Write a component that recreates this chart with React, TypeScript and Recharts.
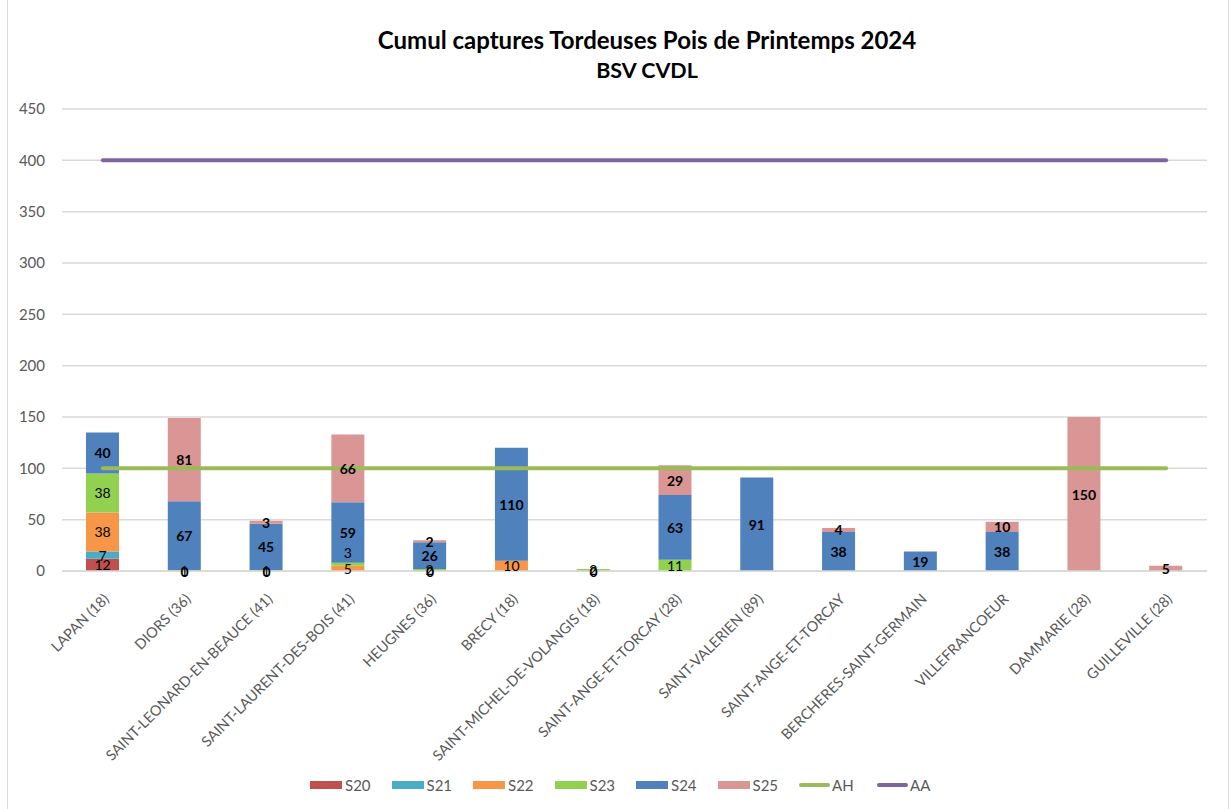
import React from 'react';
import {
  ComposedChart, Bar, Line, XAxis, YAxis, CartesianGrid, Legend, LabelList
} from 'recharts';

// Sites
const categories = [
  'LAPAN (18)',
  'DIORS (36)',
  'SAINT-LEONARD-EN-BEAUCE (41)',
  'SAINT-LAURENT-DES-BOIS (41)',
  'HEUGNES (36)',
  'BRECY (18)',
  'SAINT-MICHEL-DE-VOLANGIS (18)',
  'SAINT-ANGE-ET-TORCAY (28)',
  'SAINT-VALERIEN (89)',
  'SAINT-ANGE-ET-TORCAY',
  'BERCHERES-SAINT-GERMAIN',
  'VILLEFRANCOEUR',
  'DAMMARIE (28)',
  'GUILLEVILLE (28)',
];

// weekly captures (null = no reading)
const s20 = [12, null, null, null, null, null, null, null, null, null, null, null, null, null];
const s21 = [7, null, null, null, null, null, null, null, null, null, null, null, null, null];
const s22 = [38, 0, 0, 5, 0, 10, 0, null, null, null, null, null, null, null];
const s23 = [38, 1, 1, 3, 2, null, 2, 11, null, null, null, null, null, null];
const s24 = [40, 67, 45, 59, 26, 110, null, 63, 91, 38, 19, 38, null, null];
const s25 = [null, 81, 3, 66, 2, null, null, 29, null, 4, null, 10, 150, 5];

// thresholds
const ahThreshold = 100;
const aaThreshold = 400;

const yTicks = [0, 50, 100, 150, 200, 250, 300, 350, 400, 450];

const data = categories.map((name, i) => ({
  name,
  S20: s20[i],
  S21: s21[i],
  S22: s22[i],
  S23: s23[i],
  S24: s24[i],
  S25: s25[i],
  AH: ahThreshold,
  AA: aaThreshold,
}));

const FONT = 'Lato, "Open Sans", sans-serif';
const GREY = '#595959';
const PLOT_BOTTOM = 571;

const barSeries = [
  { key: 'S20', color: '#C0504D', bold: false },
  { key: 'S21', color: '#4BACC6', bold: false },
  { key: 'S22', color: '#F79646', bold: false },
  { key: 'S23', color: '#92D050', bold: false },
  { key: 'S24', color: '#4F81BD', bold: true },
  { key: 'S25', color: '#D99694', bold: true },
];
const lineSeries = [
  { key: 'AH', color: '#9BBB59' },
  { key: 'AA', color: '#8064A2' },
];

const makeLabel = (key: string, bold: boolean) => (props: any) => {
  const { x, y, width, height, value } = props;
  if (value === null || value === undefined || value === 0) return null;
  let cy = y + height / 2;
  // thin S23 slice stacked on a labelled S22 slice: lift its label
  if (key === 'S23' && Math.abs(height) < 5 && y + height < PLOT_BOTTOM - 2) cy -= 12;
  return (
    <text
      x={x + width / 2}
      y={cy}
      textAnchor="middle"
      dominantBaseline="central"
      fontFamily={FONT}
      fontSize={14}
      fontWeight={bold ? 700 : 400}
      fill="#000"
    >
      {value}
    </text>
  );
};

// "0" readings sit on the baseline
const zeroLabel = (props: any) => {
  const { x, y, value } = props;
  if (value !== 0) return null;
  return (
    <text
      x={x}
      y={y}
      textAnchor="middle"
      dominantBaseline="central"
      fontFamily={FONT}
      fontSize={14}
      fontWeight={700}
      fill="#000"
    >
      0
    </text>
  );
};

const XTick = (props: any) => {
  const { x, y, payload } = props;
  const ax = x + 7;
  const ay = y + 29;
  return (
    <text
      x={ax}
      y={ay}
      transform={`rotate(-45, ${ax}, ${ay})`}
      textAnchor="end"
      fill={GREY}
      fontSize={14.5}
      fontFamily={FONT}
    >
      {payload.value}
    </text>
  );
};

const LegendContent = () => (
  <div style={{ display: 'flex', fontFamily: FONT, fontSize: 15, color: GREY }}>
    {barSeries.map((s) => (
      <div key={s.key} style={{ display: 'flex', alignItems: 'center', width: 81.5 }}>
        <div style={{ width: 32, height: 8, background: s.color, marginRight: 3 }} />
        <span>{s.key}</span>
      </div>
    ))}
    {lineSeries.map((s) => (
      <div key={s.key} style={{ display: 'flex', alignItems: 'center', width: 78 }}>
        <div style={{ width: 31, height: 4, borderRadius: 2, background: s.color, marginRight: 2 }} />
        <span>{s.key}</span>
      </div>
    ))}
  </div>
);

export default function App() {
  return (
    <div style={{ position: 'absolute', left: 0, top: 0, width: 1230, height: 809, background: '#fff' }}>
      <div style={{ position: 'absolute', left: 7, top: -1, width: 1220, height: 812, border: '1px solid #D9D9D9' }} />
      <div
        style={{
          position: 'absolute', left: 297, top: 24, width: 700, textAlign: 'center',
          fontFamily: FONT, fontWeight: 700, color: '#000',
        }}
      >
        <div style={{ fontSize: 24, lineHeight: '31px' }}>Cumul captures Tordeuses Pois de Printemps 2024</div>
        <div style={{ fontSize: 21.5, lineHeight: '30px' }}>BSV CVDL</div>
      </div>
      <ComposedChart
        width={1230}
        height={809}
        data={data}
        margin={{ top: 109, right: 23, left: 0, bottom: 30 }}
        barSize={33}
        style={{ position: 'absolute', left: 0, top: 0 }}
      >
        <CartesianGrid vertical={false} stroke="#D9D9D9" strokeWidth={1.5} />
        <XAxis
          dataKey="name"
          interval={0}
          height={190}
          tickLine={false}
          tickSize={0}
          tickMargin={0}
          axisLine={{ stroke: '#D9D9D9', strokeWidth: 1.5 }}
          tick={<XTick />}
        />
        <YAxis
          domain={[0, 450]}
          ticks={yTicks}
          width={62}
          axisLine={false}
          tickLine={false}
          tickSize={0}
          tickMargin={17}
          tick={{ fill: GREY, fontSize: 15, fontFamily: FONT }}
        />
        {barSeries.map((s) => (
          <Bar key={s.key} dataKey={s.key} stackId="a" fill={s.color} isAnimationActive={false}>
            <LabelList dataKey={s.key} content={makeLabel(s.key, s.bold)} />
          </Bar>
        ))}
        <Line
          dataKey="S22"
          stroke="none"
          dot={false}
          activeDot={false}
          legendType="none"
          isAnimationActive={false}
        >
          <LabelList dataKey="S22" content={zeroLabel} />
        </Line>
        {lineSeries.map((s) => (
          <Line
            key={s.key}
            type="linear"
            dataKey={s.key}
            stroke={s.color}
            strokeWidth={4}
            strokeLinecap="round"
            dot={false}
            activeDot={false}
            isAnimationActive={false}
          />
        ))}
        <Legend
          verticalAlign="bottom"
          content={<LegendContent />}
          wrapperStyle={{ left: 310, width: 700, top: 776 }}
        />
      </ComposedChart>
    </div>
  );
}
